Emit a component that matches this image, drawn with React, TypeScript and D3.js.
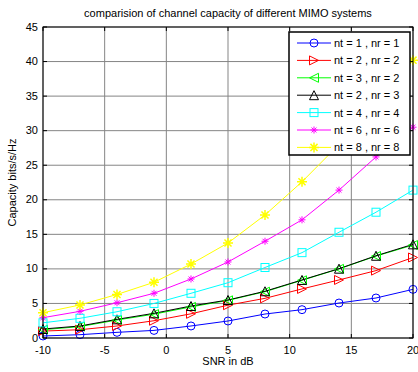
import React from 'react';
import * as d3 from 'd3';

const snr = [-10, -7, -4, -1, 2, 5, 8, 11, 14, 17, 20];
const cap11 = [0.29, 0.48, 0.82, 1.1, 1.74, 2.46, 3.47, 4.1, 5.06, 5.79, 7.04];
const cap22 = [1.0, 1.2, 1.74, 2.5, 3.5, 4.75, 5.74, 7.1, 8.4, 9.75, 11.65];
const cap32 = [1.2, 1.65, 2.6, 3.45, 4.5, 5.45, 6.7, 8.35, 10.0, 11.85, 13.45];
const cap23 = [1.3, 1.74, 2.7, 3.57, 4.63, 5.5, 6.76, 8.4, 10.03, 11.9, 13.55];
const cap44 = [2.2, 2.85, 3.8, 5.0, 6.47, 8.0, 10.2, 12.35, 15.3, 18.2, 21.4];
const cap66 = [2.94, 3.86, 5.1, 6.47, 8.54, 11.0, 14.0, 17.1, 21.4, 26.2, 30.5];
const cap88 = [3.66, 4.78, 6.3, 8.06, 10.7, 13.75, 17.8, 22.6, 28.0, 33.9, 40.2];

const seriesNames = ['nt = 1 , nr = 1', 'nt = 2 , nr = 2', 'nt = 3 , nr = 2', 'nt = 2 , nr = 3', 'nt = 4 , nr = 4', 'nt = 6 , nr = 6', 'nt = 8 , nr = 8'];
const seriesColors = ['#0000ff', '#ff0000', '#00ff00', '#000000', '#00ffff', '#ff00ff', '#ffff00'];
const seriesMarkers = ['circle', 'right', 'left', 'up', 'square', 'star', 'star8'];
const seriesData = [cap11, cap22, cap32, cap23, cap44, cap66, cap88];

const xTicks = [-10, -5, 0, 5, 10, 15, 20];
const yTicks = [0, 5, 10, 15, 20, 25, 30, 35, 40, 45];

const W = 418;
const H = 372;
const margin = { left: 43, right: 5, top: 27, bottom: 34 };
const font = 'Liberation Sans, Arial, sans-serif';

const Marker = ({ kind, x, y, color }: any) => {
  const s = 4.5;
  if (kind === 'circle') return <circle cx={x} cy={y} r={4} fill="none" stroke={color} strokeWidth={1} />;
  if (kind === 'square') return <rect x={x - 4} y={y - 4} width={8} height={8} fill="none" stroke={color} strokeWidth={1} />;
  if (kind === 'right') return <path d={`M${x - s},${y - s}L${x + s},${y}L${x - s},${y + s}Z`} fill="none" stroke={color} />;
  if (kind === 'left') return <path d={`M${x + s},${y - s}L${x - s},${y}L${x + s},${y + s}Z`} fill="none" stroke={color} />;
  if (kind === 'up') return <path d={`M${x},${y - s}L${x + s},${y + s}L${x - s},${y + s}Z`} fill="none" stroke={color} />;
  const r = kind === 'star' ? 3.5 : 5;
  const d = [0, 45, 90, 135].map((a) => {
    const t = (a * Math.PI) / 180;
    return `M${x - r * Math.cos(t)},${y - r * Math.sin(t)}L${x + r * Math.cos(t)},${y + r * Math.sin(t)}`;
  }).join('');
  return <path d={d} stroke={color} strokeWidth={kind === 'star' ? 1 : 1.5} />;
};

const App = () => {
  const x = d3.scaleLinear().domain([-10, 20]).range([margin.left, W - margin.right]);
  const y = d3.scaleLinear().domain([0, 45]).range([H - margin.bottom, margin.top]);
  const line = d3.line<number>().x((_, i) => x(snr[i])).y((d) => y(d));

  const x0 = x.range()[0], x1 = x.range()[1];
  const y0 = y.range()[0], y1 = y.range()[1];

  const lx = 289, ly = 32, lw = 121, lh = 123, rowH = 17.4;

  return (
    <svg width={W} height={H} style={{ position: 'absolute', left: 0, top: 0, background: '#fff' }} fontFamily={font}>
      <defs>
        <clipPath id="plot">
          <rect x={x0} y={y1} width={x1 - x0} height={y0 - y1} />
        </clipPath>
      </defs>
      <rect width={W} height={H} fill="#fff" />
      <text x={(x0 + x1) / 2} y={17} textAnchor="middle" fontSize={11}>comparision of channel capacity of different MIMO systems</text>

      {/* grid */}
      {xTicks.map((t) => (
        <line key={'gx' + t} x1={x(t)} x2={x(t)} y1={y1} y2={y0} stroke="#858585" strokeWidth={1} />
      ))}
      {yTicks.map((t) => (
        <line key={'gy' + t} x1={x0} x2={x1} y1={y(t)} y2={y(t)} stroke="#858585" strokeWidth={1} />
      ))}

      {/* series */}
      <g clipPath="url(#plot)">
        {seriesData.map((s, i) => (
          <path key={'l' + i} d={line(s) || ''} fill="none" stroke={seriesColors[i]} strokeWidth={1} />
        ))}
      </g>
      {seriesData.map((s, i) => (
        <g key={'m' + i}>
          {s.map((v, j) => (
            <Marker key={j} kind={seriesMarkers[i]} x={x(snr[j])} y={y(v)} color={seriesColors[i]} />
          ))}
        </g>
      ))}

      {/* axes box */}
      <rect x={x0} y={y1} width={x1 - x0} height={y0 - y1} fill="none" stroke="#000" strokeWidth={1} />
      {xTicks.map((t) => (
        <g key={'tx' + t}>
          <line x1={x(t)} x2={x(t)} y1={y0} y2={y0 - 4} stroke="#000" />
          <line x1={x(t)} x2={x(t)} y1={y1} y2={y1 + 4} stroke="#000" />
          <text x={x(t)} y={y0 + 16} textAnchor="middle" fontSize={11}>{t}</text>
        </g>
      ))}
      {yTicks.map((t) => (
        <g key={'ty' + t}>
          <line x1={x0} x2={x0 + 4} y1={y(t)} y2={y(t)} stroke="#000" />
          <line x1={x1} x2={x1 - 4} y1={y(t)} y2={y(t)} stroke="#000" />
          <text x={x0 - 5} y={y(t) + 3.5} textAnchor="end" fontSize={11}>{t}</text>
        </g>
      ))}
      <text x={(x0 + x1) / 2} y={365} textAnchor="middle" fontSize={11}>SNR in dB</text>
      <text transform={`translate(16,${(y0 + y1) / 2}) rotate(-90)`} textAnchor="middle" fontSize={11}>Capacity bits/s/Hz</text>

      {/* legend */}
      <rect x={lx} y={ly} width={lw} height={lh} fill="#fff" stroke="#000" strokeWidth={1.5} />
      {seriesNames.map((n, i) => {
        const ry = ly + 11 + i * rowH;
        return (
          <g key={'lg' + i}>
            <line x1={lx + 8} x2={lx + 42} y1={ry} y2={ry} stroke={seriesColors[i]} />
            <Marker kind={seriesMarkers[i]} x={lx + 25} y={ry} color={seriesColors[i]} />
            <text x={lx + 45} y={ry + 4} fontSize={11}>{n}</text>
          </g>
        );
      })}
    </svg>
  );
};

export default App;
